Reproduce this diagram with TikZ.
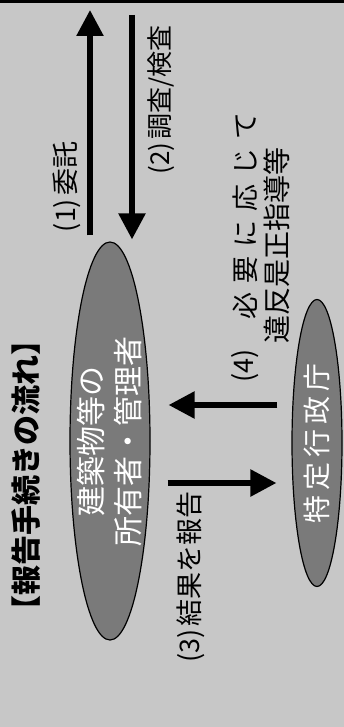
\documentclass[tikz,border=0pt]{standalone}
\usepackage{fontspec}
\setmainfont{Noto Sans CJK JP}
\usetikzlibrary{arrows.meta,shapes.geometric}
\begin{document}
\begin{tikzpicture}[x=1pt,y=-1pt,
  arr/.style={line width=5.5pt,-{Triangle[width=26pt,length=26pt]}},
  oval/.style={ellipse,draw=black,line width=1.2pt,fill=black!52,inner sep=0pt},
  lbl/.style={rotate=90,inner sep=0pt,font=\fontsize{27}{27}\selectfont},
  ovtxt/.style={rotate=90,inner sep=0pt,text=white,align=center,font=\fontsize{30}{37}\selectfont}]
\useasboundingbox (0,0) rectangle (344,727);
\fill[black!22] (0,0) rectangle (344,727);
\fill[black] (0,0) rectangle (344,3.5);
% title
\node[lbl,font=\fontsize{30}{30}\selectfont\bfseries] (title) at (26,475) {【報告手続きの流れ】};
% ovals
\node[oval,minimum width=80pt,minimum height=398pt] (e1) at (110,441) {};
\node[ovtxt] (e1t) at (e1.center) {建築物等の\\所有者・管理者};
\node[oval,minimum width=50pt,minimum height=287pt] (e2) at (317,443) {};
\node[ovtxt,font=\fontsize{28}{28}\selectfont] (e2t) at (e2.center) {特\hspace{5pt}定\hspace{5pt}行\hspace{5pt}政\hspace{5pt}庁};
% free ends
\coordinate (c1) at (90,10);
\coordinate (c2) at (132,15);
\coordinate (c4) at (0,405);
\coordinate (c3) at (0,483);
% arrows
\draw[arr,shorten <=6pt] (e1.north -| c1) -- (c1);
\draw[arr,shorten >=2pt] (c2) -- (e1.north -| c2);
\draw[arr,shorten <=14pt,shorten >=18pt] (e2.west |- c4) -- (e1.east |- c4);
\draw[arr,shorten <=17pt,shorten >=15pt] (e1.east |- c3) -- (e2.west |- c3);
% labels
\node[lbl] (l1) at (67,187) {(1)\hspace{3pt}委託};
\node[lbl,font=\fontsize{26}{26}\selectfont] (l2) at (161,100) {(2)\hspace{3pt}調査/検査};
\node[lbl] (l3) at (191,577) {(3)\hspace{3pt}結果を報告};
\node[lbl] (l4a) at (245,366) {(4)};
\node[lbl] (l4b) at (245,216) {必\hspace{9pt}要\hspace{9pt}に\hspace{9pt}応\hspace{9pt}じ\hspace{9pt}て};
\node[lbl,font=\fontsize{28}{28}\selectfont] (l4c) at (277,245) {違反是正指導等};
\end{tikzpicture}
\end{document}
